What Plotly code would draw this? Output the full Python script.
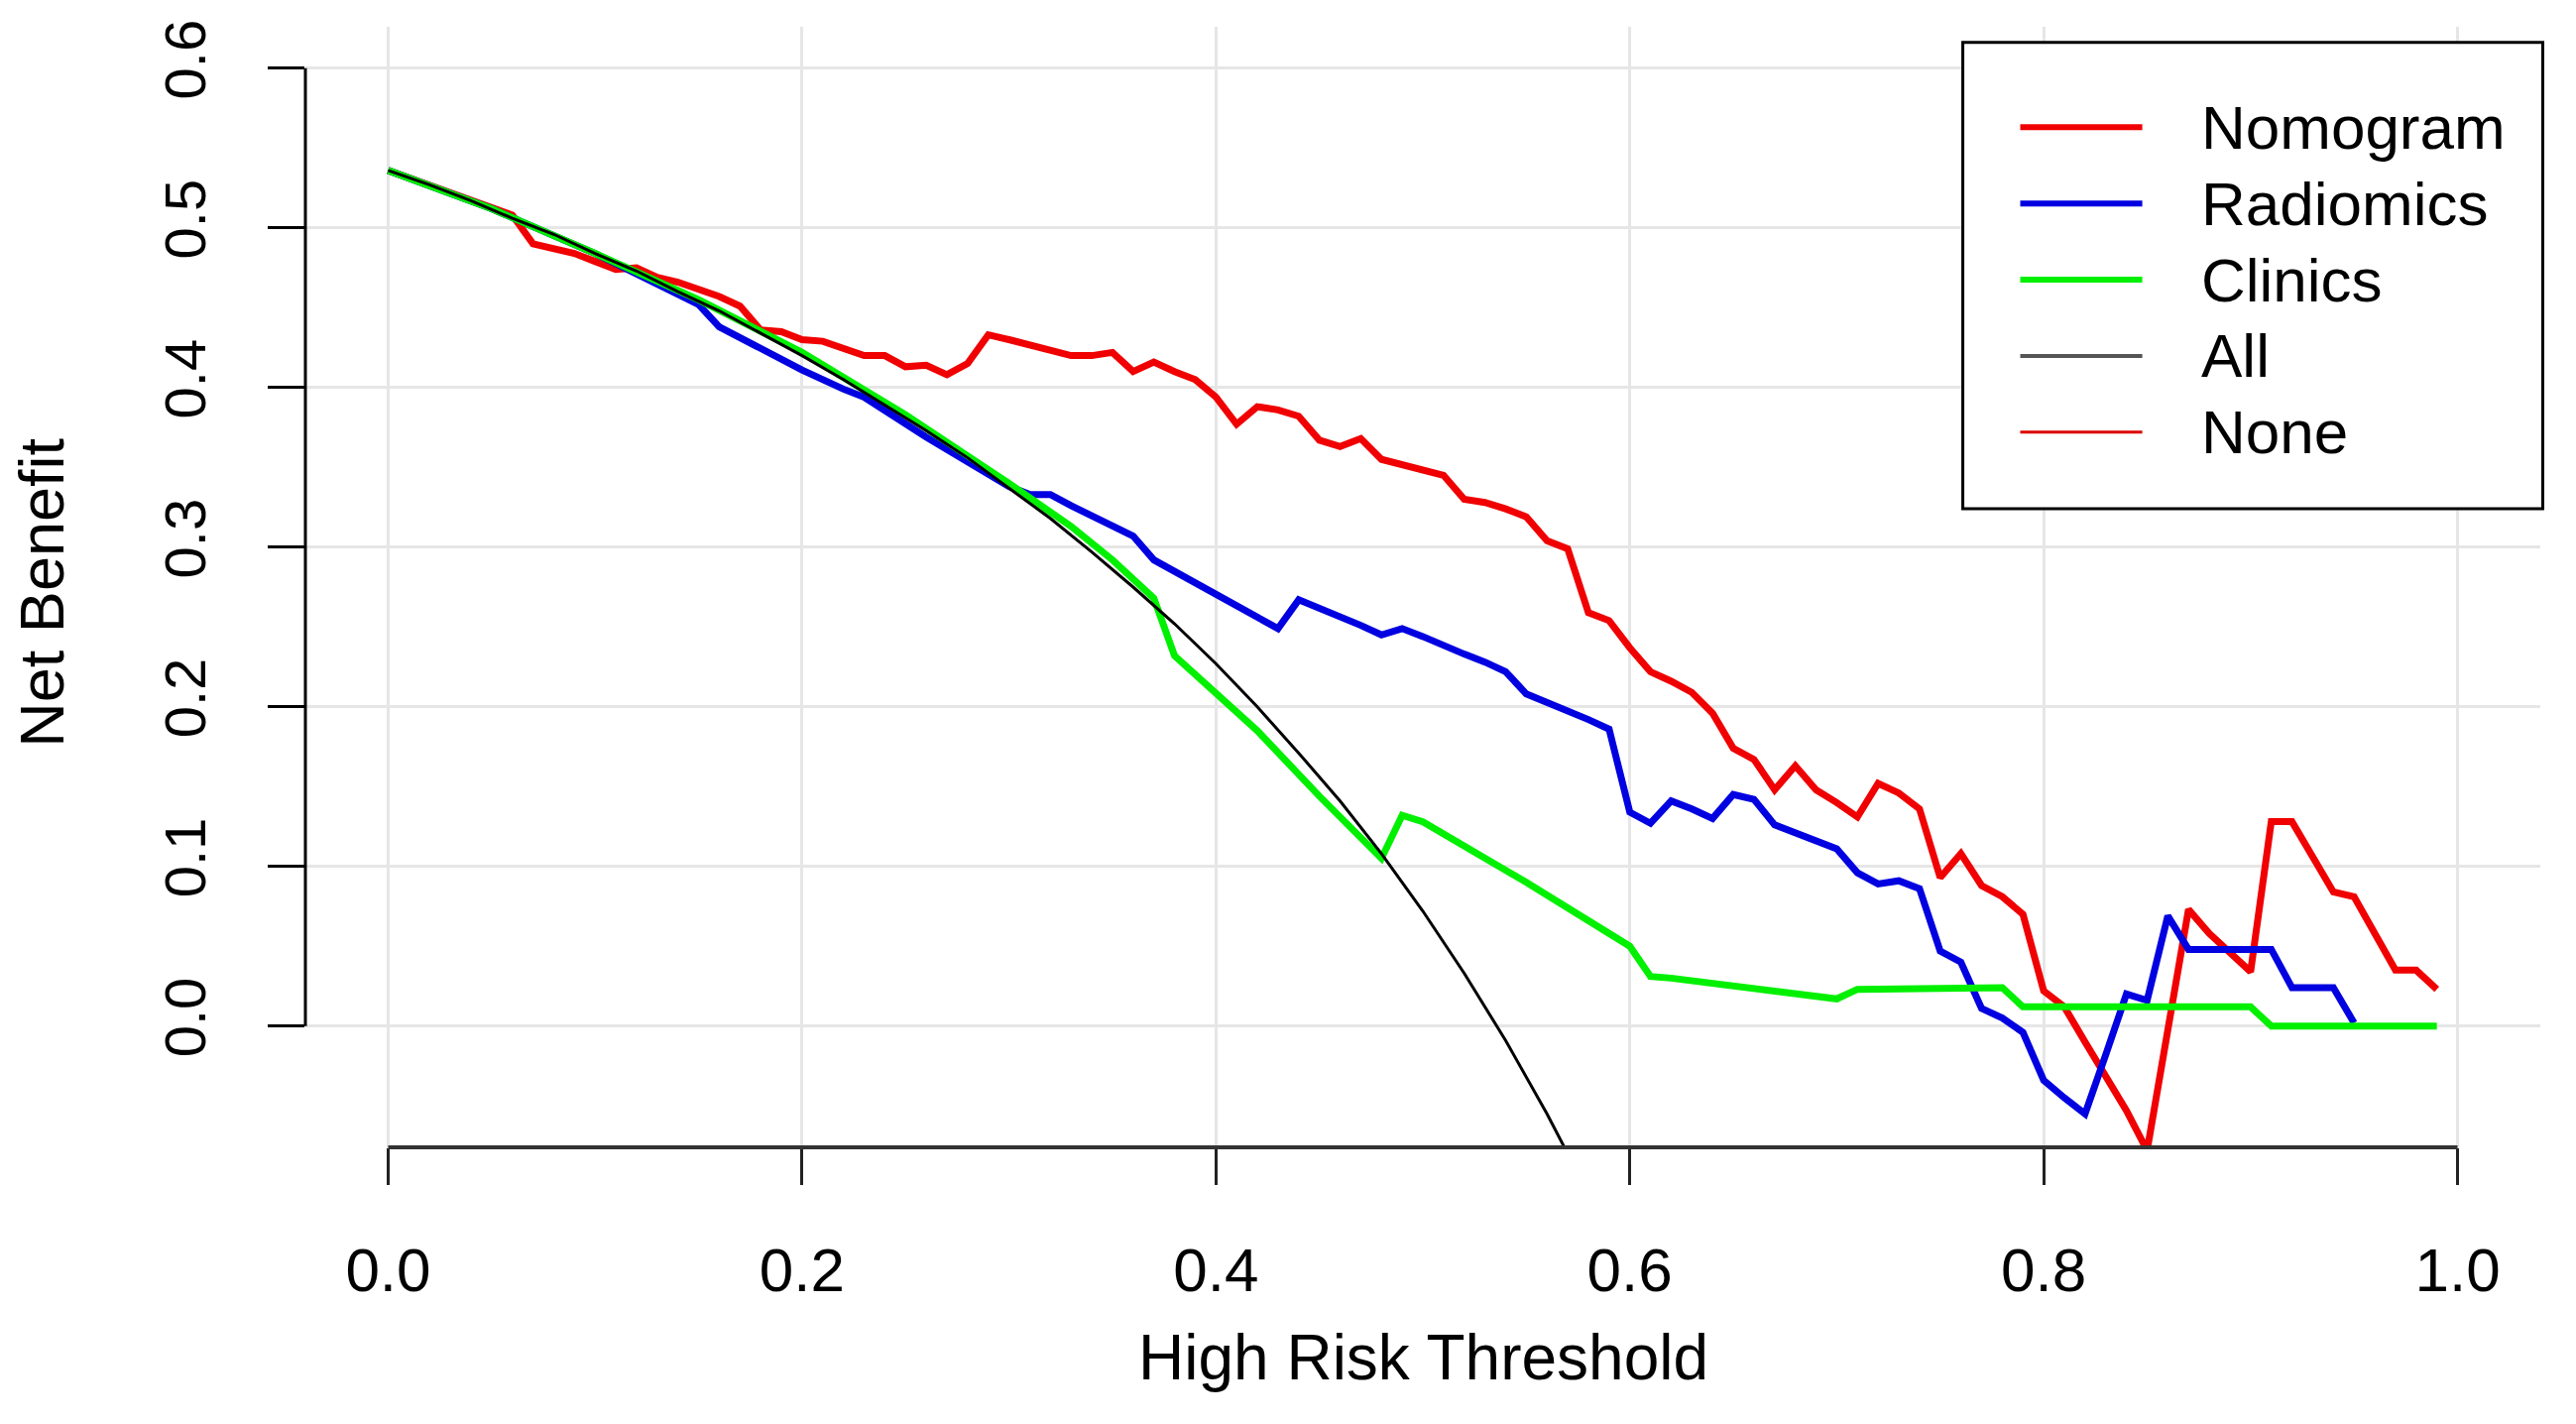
import plotly.graph_objects as go

# Decision curve values
nomogram_t = [0.00, 0.06, 0.07, 0.08, 0.09, 0.10, 0.11, 0.12, 0.13, 0.14, 0.15, 0.16, 0.17, 0.18, 0.19,
              0.20, 0.21, 0.22, 0.23, 0.24, 0.25, 0.26, 0.27, 0.28, 0.29, 0.30, 0.31, 0.32, 0.33, 0.34,
              0.35, 0.36, 0.37, 0.38, 0.39, 0.40, 0.41, 0.42, 0.43, 0.44, 0.45, 0.46, 0.47, 0.48, 0.49,
              0.50, 0.51, 0.52, 0.53, 0.54, 0.55, 0.56, 0.57, 0.58, 0.59, 0.60, 0.61, 0.62, 0.63, 0.64,
              0.65, 0.66, 0.67, 0.68, 0.69, 0.70, 0.71, 0.72, 0.73, 0.74, 0.75, 0.76, 0.77, 0.78, 0.79,
              0.80, 0.81, 0.82, 0.83, 0.84, 0.85, 0.86, 0.87, 0.88, 0.89, 0.90, 0.91, 0.92, 0.93, 0.94,
              0.95, 0.96, 0.97, 0.98, 0.99]
nomogram_nb = [0.536, 0.508, 0.490, 0.487, 0.484, 0.479, 0.474, 0.475, 0.469, 0.466, 0.462, 0.457, 0.451, 0.436, 0.435,
               0.430, 0.429, 0.425, 0.420, 0.420, 0.413, 0.414, 0.408, 0.415, 0.433, 0.430, 0.427, 0.423, 0.420, 0.420,
               0.422, 0.410, 0.416, 0.410, 0.405, 0.394, 0.377, 0.388, 0.386, 0.382, 0.367, 0.363, 0.368, 0.355, 0.352,
               0.348, 0.345, 0.330, 0.328, 0.324, 0.319, 0.304, 0.299, 0.259, 0.254, 0.237, 0.222, 0.216, 0.209, 0.196,
               0.174, 0.167, 0.148, 0.163, 0.148, 0.140, 0.131, 0.152, 0.146, 0.136, 0.093, 0.108, 0.088, 0.081, 0.070,
               0.022, 0.012, -0.010, -0.031, -0.053, -0.078, -0.002, 0.073, 0.058, 0.046, 0.034, 0.128, 0.128, 0.106, 0.084,
               0.081, 0.058, 0.035, 0.035, 0.023]

radiomics_t = [0.00, 0.05, 0.10, 0.15, 0.16, 0.20, 0.22, 0.23, 0.26, 0.30, 0.31, 0.32, 0.33, 0.34, 0.35,
               0.36, 0.37, 0.38, 0.39, 0.40, 0.41, 0.42, 0.43, 0.44, 0.45, 0.46, 0.47, 0.48, 0.49, 0.50,
               0.51, 0.52, 0.53, 0.54, 0.55, 0.56, 0.57, 0.58, 0.59, 0.60, 0.61, 0.62, 0.63, 0.64, 0.65,
               0.66, 0.67, 0.68, 0.69, 0.70, 0.71, 0.72, 0.73, 0.74, 0.75, 0.76, 0.77, 0.78, 0.79, 0.80,
               0.81, 0.82, 0.83, 0.84, 0.85, 0.86, 0.87, 0.88, 0.89, 0.90, 0.91, 0.92, 0.93, 0.94, 0.95]
radiomics_nb = [0.536, 0.512, 0.484, 0.452, 0.438, 0.411, 0.399, 0.394, 0.369, 0.338, 0.333, 0.333, 0.326, 0.320, 0.314,
                0.307, 0.292, 0.285, 0.278, 0.271, 0.264, 0.256, 0.249, 0.267, 0.262, 0.257, 0.251, 0.245, 0.249, 0.244,
                0.238, 0.233, 0.228, 0.222, 0.208, 0.203, 0.197, 0.192, 0.186, 0.134, 0.127, 0.141, 0.136, 0.130, 0.145,
                0.142, 0.126, 0.121, 0.116, 0.111, 0.096, 0.089, 0.091, 0.086, 0.047, 0.040, 0.011, 0.005, -0.004, -0.034,
                -0.045, -0.055, -0.018, 0.020, 0.016, 0.069, 0.048, 0.048, 0.048, 0.048, 0.048, 0.024, 0.024, 0.024, 0.002]

clinics_t = [0.00, 0.05, 0.10, 0.15, 0.20, 0.25, 0.30, 0.33, 0.35, 0.37, 0.38, 0.39, 0.42, 0.45, 0.48,
             0.49, 0.50, 0.55, 0.60, 0.61, 0.62, 0.70, 0.71, 0.78, 0.79, 0.90, 0.91, 0.99]
clinics_nb = [0.536, 0.512, 0.484, 0.455, 0.422, 0.383, 0.340, 0.313, 0.292, 0.268, 0.232, 0.220, 0.185, 0.144, 0.105,
              0.132, 0.128, 0.090, 0.050, 0.031, 0.030, 0.017, 0.023, 0.024, 0.012, 0.012, 0.000, 0.000]

all_t = [0.00, 0.02, 0.04, 0.06, 0.08, 0.10, 0.12, 0.14, 0.16, 0.18, 0.20, 0.22, 0.24, 0.26, 0.28,
         0.30, 0.32, 0.34, 0.36, 0.38, 0.40, 0.42, 0.44, 0.46, 0.48, 0.50, 0.52, 0.54, 0.56, 0.58]
all_nb = [0.536, 0.527, 0.517, 0.506, 0.496, 0.484, 0.473, 0.460, 0.448, 0.434, 0.420, 0.405, 0.389, 0.373, 0.356,
          0.337, 0.318, 0.297, 0.275, 0.252, 0.227, 0.200, 0.171, 0.141, 0.108, 0.072, 0.033, -0.009, -0.055, -0.105]

x_ticks = [0.0, 0.2, 0.4, 0.6, 0.8, 1.0]
y_ticks = [0.0, 0.1, 0.2, 0.3, 0.4, 0.5, 0.6]

legend_names = ["Nomogram", "Radiomics", "Clinics", "All", "None"]
legend_colors = ["#f00000", "#0000e0", "#00f000", "#555555", "#dd0000"]
legend_widths = [6, 6, 6, 4, 3]

FONT = "Liberation Sans, Arial, sans-serif"

fig = go.Figure()
# drawing order as in the original: models first, treat-all on top
fig.add_trace(go.Scatter(x=nomogram_t, y=nomogram_nb, mode="lines", name="Nomogram",
                         line=dict(color="#f00000", width=7)))
fig.add_trace(go.Scatter(x=radiomics_t, y=radiomics_nb, mode="lines", name="Radiomics",
                         line=dict(color="#0000e0", width=7)))
fig.add_trace(go.Scatter(x=clinics_t, y=clinics_nb, mode="lines", name="Clinics",
                         line=dict(color="#00f000", width=7)))
fig.add_trace(go.Scatter(x=all_t, y=all_nb, mode="lines", name="All",
                         line=dict(color="black", width=3)))

shapes = [
    # R-style axis lines, only between first and last tick
    dict(type="line", xref="x", yref="paper", x0=x_ticks[0], x1=x_ticks[-1], y0=0, y1=0,
         line=dict(color="#333333", width=4)),
    dict(type="line", xref="paper", yref="y", x0=0, x1=0, y0=y_ticks[0], y1=y_ticks[-1],
         line=dict(color="black", width=3)),
    # legend box
    dict(type="rect", xref="paper", yref="paper", x0=0.7416, x1=1.0011, y0=0.5699, y1=0.986,
         fillcolor="white", line=dict(color="black", width=3)),
]
annotations = []
for i, (name, col, w) in enumerate(zip(legend_names, legend_colors, legend_widths)):
    yy = 0.9103 - i * 0.0680
    shapes.append(dict(type="line", xref="paper", yref="paper", x0=0.7673, x1=0.8219, y0=yy, y1=yy,
                       line=dict(color=col, width=w)))
    annotations.append(dict(text=name, xref="paper", yref="paper", x=0.8476, y=yy,
                            xanchor="left", yanchor="middle", showarrow=False,
                            font=dict(family=FONT, size=62, color="black")))

annotations.append(dict(text="High Risk Threshold", xref="paper", yref="paper", x=0.5, y=-0.188,
                        xanchor="center", yanchor="middle", showarrow=False,
                        font=dict(family=FONT, size=64, color="black")))
annotations.append(dict(text="Net Benefit", xref="paper", yref="paper", x=-0.1180, y=0.495,
                        xanchor="center", yanchor="middle", showarrow=False, textangle=-90,
                        font=dict(family=FONT, size=63, color="black")))

fig.update_layout(
    width=2582, height=1420,
    margin=dict(l=300, r=28, t=12, b=271),
    paper_bgcolor="white", plot_bgcolor="white",
    showlegend=False,
    font=dict(family=FONT, size=58, color="black"),
    shapes=shapes, annotations=annotations,
    xaxis=dict(range=[-0.04, 1.04], tickvals=x_ticks, tickformat=".1f",
               tickfont=dict(family=FONT, size=62),
               showgrid=True, gridcolor="#e6e6e6", gridwidth=3, zeroline=False, showline=False,
               ticks="outside", ticklen=37, tickwidth=3, tickcolor="#222222",
               ticklabelstandoff=33),
    yaxis=dict(range=[-0.076, 0.626], tickvals=y_ticks, tickformat=".1f", tickangle=-90,
               showgrid=True, gridcolor="#e6e6e6", gridwidth=3, zeroline=False, showline=False,
               ticks="outside", ticklen=37, tickwidth=3, tickcolor="black",
               ticklabelstandoff=40),
)

fig.write_html("out.html")
